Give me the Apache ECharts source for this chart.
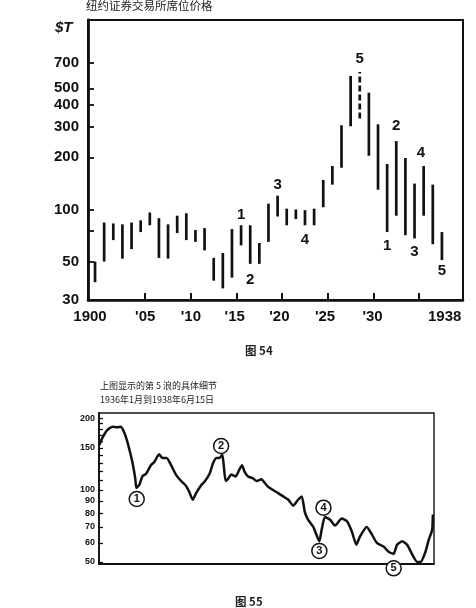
<!DOCTYPE html>
<html lang="zh">

<head>
    <meta charset="UTF-8">
    <meta name="viewport" content="width=device-width, initial-scale=1.0">
    <title>纽约证券交易所席位价格</title>
    <script src="https://cdn.jsdelivr.net/npm/echarts@6.0.0/dist/echarts.min.js"></script>
    <style>
        html, body { margin: 0; padding: 0; background: #fff; }
    </style>
</head>

<body>
    <div id="main" style="width: 476px; height: 608px;"></div>
    <script type="text/javascript">
        // ---- 图 54: yearly high / low of a seat price ($ thousands) ----
        const years = [1900, 1901, 1902, 1903, 1904, 1905, 1906, 1907, 1908, 1909,
            1910, 1911, 1912, 1913, 1914, 1915, 1916, 1917, 1918, 1919,
            1920, 1921, 1922, 1923, 1924, 1925, 1926, 1927, 1928, 1929,
            1930, 1931, 1932, 1933, 1934, 1935, 1936, 1937, 1938];
        const seatLow = [38, 50, 66.5, 52, 59, 74, 81, 52.5, 52, 73,
            66.5, 65, 58, 38.8, 35, 40.4, 62, 48.5, 48.5, 65,
            91, 81, 88, 81, 81, 103, 139, 174, 302, 335,
            204, 130, 74, 92, 71, 68, 92, 63, 51];
        const seatHigh = [50, 84, 83, 82, 84, 86.5, 96, 89, 82, 92,
            95, 76, 78, 52.5, 56, 77, 81, 81, 64, 108,
            120, 101, 100, 99, 101, 148, 178, 306, 590, 622,
            472, 310, 183, 248, 198, 141, 178, 139, 74];
        const dashedYears = [1929];

        const waveText = ['1', '2', '3', '4', '5', '1', '2', '3', '4', '5'];
        const waveYear = [1916, 1917, 1920, 1923, 1929, 1932, 1933, 1935, 1935.7, 1938];
        const waveValue = [93.6, 39.3, 139, 66.5, 740, 62, 302, 56.8, 212, 44.2];

        const topYLabels = [30, 50, 100, 200, 300, 400, 500, 700];
        const topYTicks = [50, 75, 100, 200, 300, 400, 500, 700];
        const topXTicks = [1905.5, 1910.5, 1915.5, 1920.5, 1925.5, 1930.5, 1935.5];
        const topXLabelPos = [1899.45, 1905.5, 1910.5, 1915.3, 1920.2, 1925.2, 1930.4, 1938.3];
        const topXLabelText = ['1900', "'05", "'10", "'15", "'20", "'25", "'30", '1938'];

        // ---- 图 55: detail of wave 5, Jan 1936 - Jun 15 1938 ----
        const lineDates = ['1936-01-02', '1936-01-09', '1936-01-23', '1936-02-06', '1936-02-19', '1936-02-28',
            '1936-03-08', '1936-03-17', '1936-03-26', '1936-04-01', '1936-04-07', '1936-04-10', '1936-04-18',
            '1936-04-26', '1936-05-06', '1936-05-19', '1936-05-28', '1936-06-10', '1936-06-19', '1936-06-30',
            '1936-07-12', '1936-07-25', '1936-08-08', '1936-08-21', '1936-08-30', '1936-09-08', '1936-09-17',
            '1936-10-01', '1936-10-09', '1936-10-23', '1936-11-01', '1936-11-10', '1936-11-19', '1936-11-26',
            '1936-11-30', '1936-12-05', '1936-12-11', '1936-12-20', '1937-01-01', '1937-01-10', '1937-01-18',
            '1937-01-25', '1937-02-03', '1937-02-16', '1937-02-26', '1937-03-11', '1937-03-20', '1937-03-29',
            '1937-04-11', '1937-04-25', '1937-05-08', '1937-05-22', '1937-06-04', '1937-06-17', '1937-06-27',
            '1937-07-05', '1937-07-14', '1937-07-28', '1937-08-13', '1937-08-19', '1937-08-28', '1937-09-11',
            '1937-09-24', '1937-10-12', '1937-10-26', '1937-11-08', '1937-11-20', '1937-11-30', '1937-12-18',
            '1938-01-01', '1938-01-14', '1938-02-01', '1938-02-15', '1938-02-28', '1938-03-09', '1938-03-23',
            '1938-04-05', '1938-04-18', '1938-05-02', '1938-05-11', '1938-05-24', '1938-06-02', '1938-06-11',
            '1938-06-13'];
        const lineValues = [154, 164, 178, 184, 183, 184, 175, 159, 140, 127,
            112, 102, 105, 114, 117, 127, 131, 141, 136, 136,
            127, 116, 109, 104, 98, 91, 97, 105, 108, 117,
            129, 136, 136, 141, 127, 109, 111, 116, 114, 121,
            127, 119, 114, 112, 109, 111, 107, 103, 100, 97,
            94, 91, 86, 91, 94, 81, 75, 70, 61, 68,
            77, 75, 71, 76, 74, 67, 59, 64, 70, 65,
            60, 58, 55, 54, 59, 61, 59, 54, 50, 50,
            55, 62, 68, 79];

        const circleText = ['1', '2', '3', '4', '5'];
        const circleDates = ['1936-04-11', '1936-11-23', '1937-08-13', '1937-08-24', '1938-02-28'];
        const circleValues = [91.7, 152.8, 55.6, 84.3, 47];

        const bottomYLabels = [50, 60, 70, 80, 90, 100, 150, 200];
        const bottomYTicks = [50, 60, 70, 80, 90, 100, 110, 120, 130, 140, 150, 160, 170, 180, 190, 200];

        const ink = '#111';
        const numFont = 'Liberation Sans, Arial, sans-serif';
        const cjkFont = 'Noto Sans CJK SC, sans-serif';

        let myChart = echarts.init(document.getElementById('main'));

        const options = {
            backgroundColor: '#fff',
            animation: false,
            title: [
                { text: '纽约证券交易所席位价格', left: 86, top: 0, padding: 0,
                  textStyle: { fontSize: 11.5, fontWeight: 'normal', fontFamily: cjkFont, color: '#222' } },
                { text: '$T', left: 55, top: 20, padding: 0,
                  textStyle: { fontSize: 15, fontWeight: 'bold', fontStyle: 'italic', fontFamily: numFont, color: ink } },
                { text: '图 54', left: 245, top: 345, padding: 0,
                  textStyle: { fontSize: 11.5, fontWeight: 'bold', fontFamily: cjkFont, color: '#222' } },
                { text: '上图显示的第 5 浪的具体细节', left: 100, top: 381, padding: 0,
                  textStyle: { fontSize: 9, fontWeight: 'normal', fontFamily: cjkFont, color: '#222' } },
                { text: '1936年1月到1938年6月15日', left: 100, top: 395, padding: 0,
                  textStyle: { fontSize: 9, fontWeight: 'normal', fontFamily: cjkFont, color: '#222' } },
                { text: '图 55', left: 235, top: 596, padding: 0,
                  textStyle: { fontSize: 11.5, fontWeight: 'bold', fontFamily: cjkFont, color: '#222' } }
            ],
            grid: [
                { left: 88, top: 20, right: 13, bottom: 308, show: true,
                  borderColor: ink, borderWidth: 2, backgroundColor: 'transparent' },
                { left: 99, top: 413, right: 42, bottom: 44, show: true,
                  borderColor: ink, borderWidth: 1.4, backgroundColor: 'transparent' }
            ],
            xAxis: [
                {
                    type: 'value', gridIndex: 0, min: 1899.23, max: 1940.31,
                    splitLine: { show: false },
                    axisLine: { lineStyle: { color: ink, width: 2.6 } },
                    axisTick: { inside: true, length: 7, customValues: topXTicks, lineStyle: { color: ink, width: 2 } },
                    axisLabel: {
                        customValues: topXLabelPos, margin: 9, color: ink,
                        fontSize: 15, fontWeight: 'bold', fontFamily: numFont,
                        formatter: v => {
                            let best = 0;
                            topXLabelPos.forEach((p, i) => {
                                if (Math.abs(p - v) < Math.abs(topXLabelPos[best] - v)) best = i;
                            });
                            return topXLabelText[best];
                        }
                    }
                },
                {
                    type: 'time', gridIndex: 1, min: '1936-01-01', max: '1938-06-16',
                    splitLine: { show: false },
                    axisLine: { lineStyle: { color: ink, width: 1.8 } },
                    axisTick: { show: false },
                    axisLabel: { show: false }
                }
            ],
            yAxis: [
                {
                    type: 'log', gridIndex: 0, min: 30, max: 1240,
                    splitLine: { show: false },
                    axisLine: { show: true, lineStyle: { color: ink, width: 2.8 } },
                    axisTick: { show: true, inside: true, length: 6, customValues: topYTicks, lineStyle: { color: ink, width: 1.8 } },
                    axisLabel: {
                        customValues: topYLabels, margin: 9, color: ink,
                        fontSize: 15, fontWeight: 'bold', fontFamily: numFont
                    }
                },
                {
                    type: 'log', gridIndex: 1, min: 49, max: 210,
                    splitLine: { show: false },
                    axisLine: { show: true, lineStyle: { color: ink, width: 1.8 } },
                    axisTick: { show: true, inside: true, length: 4, customValues: bottomYTicks, lineStyle: { color: ink, width: 1.3 } },
                    axisLabel: {
                        customValues: bottomYLabels, margin: 4, color: ink,
                        fontSize: 9, fontWeight: 'bold', fontFamily: 'Liberation Sans Narrow, ' + numFont
                    }
                }
            ],
            series: [
                {
                    // high-low bars
                    type: 'custom',
                    xAxisIndex: 0, yAxisIndex: 0,
                    encode: { x: 0, y: [1, 2] },
                    data: years.map((y, i) => [y, seatLow[i], seatHigh[i], dashedYears.includes(y) ? 1 : 0]),
                    renderItem: (params, api) => {
                        const lo = api.coord([api.value(0), api.value(1)]);
                        const hi = api.coord([api.value(0), api.value(2)]);
                        return {
                            type: 'line',
                            shape: { x1: lo[0], y1: lo[1], x2: hi[0], y2: hi[1] },
                            style: {
                                stroke: ink, lineWidth: 2.7,
                                lineDash: api.value(3) ? [6, 3] : null
                            }
                        };
                    }
                },
                {
                    // wave numbers on the yearly chart
                    type: 'scatter',
                    xAxisIndex: 0, yAxisIndex: 0,
                    symbolSize: 1,
                    itemStyle: { color: 'rgba(0,0,0,0)', opacity: 1 },
                    clip: false,
                    data: waveYear.map((y, i) => [y, waveValue[i]]),
                    label: {
                        show: true, position: 'inside', color: ink, opacity: 1,
                        fontSize: 15, fontWeight: 'bold', fontFamily: numFont,
                        formatter: p => waveText[p.dataIndex]
                    }
                },
                {
                    type: 'line',
                    xAxisIndex: 1, yAxisIndex: 1,
                    data: lineDates.map((d, i) => [d, lineValues[i]]),
                    showSymbol: false,
                    smooth: 0.18,
                    lineStyle: { color: ink, width: 2.5 }
                },
                {
                    // circled wave numbers on the detail chart
                    type: 'scatter',
                    xAxisIndex: 1, yAxisIndex: 1,
                    symbol: 'circle', symbolSize: 15,
                    clip: false, z: 5,
                    itemStyle: { color: '#fff', borderColor: ink, borderWidth: 1.5, opacity: 1 },
                    data: circleDates.map((d, i) => [d, circleValues[i]]),
                    label: {
                        show: true, position: 'inside', color: ink, opacity: 1,
                        fontSize: 11, fontWeight: 'bold', fontFamily: numFont,
                        formatter: p => circleText[p.dataIndex]
                    }
                }
            ]
        };

        myChart.setOption(options);
    </script>
</body>

</html>
